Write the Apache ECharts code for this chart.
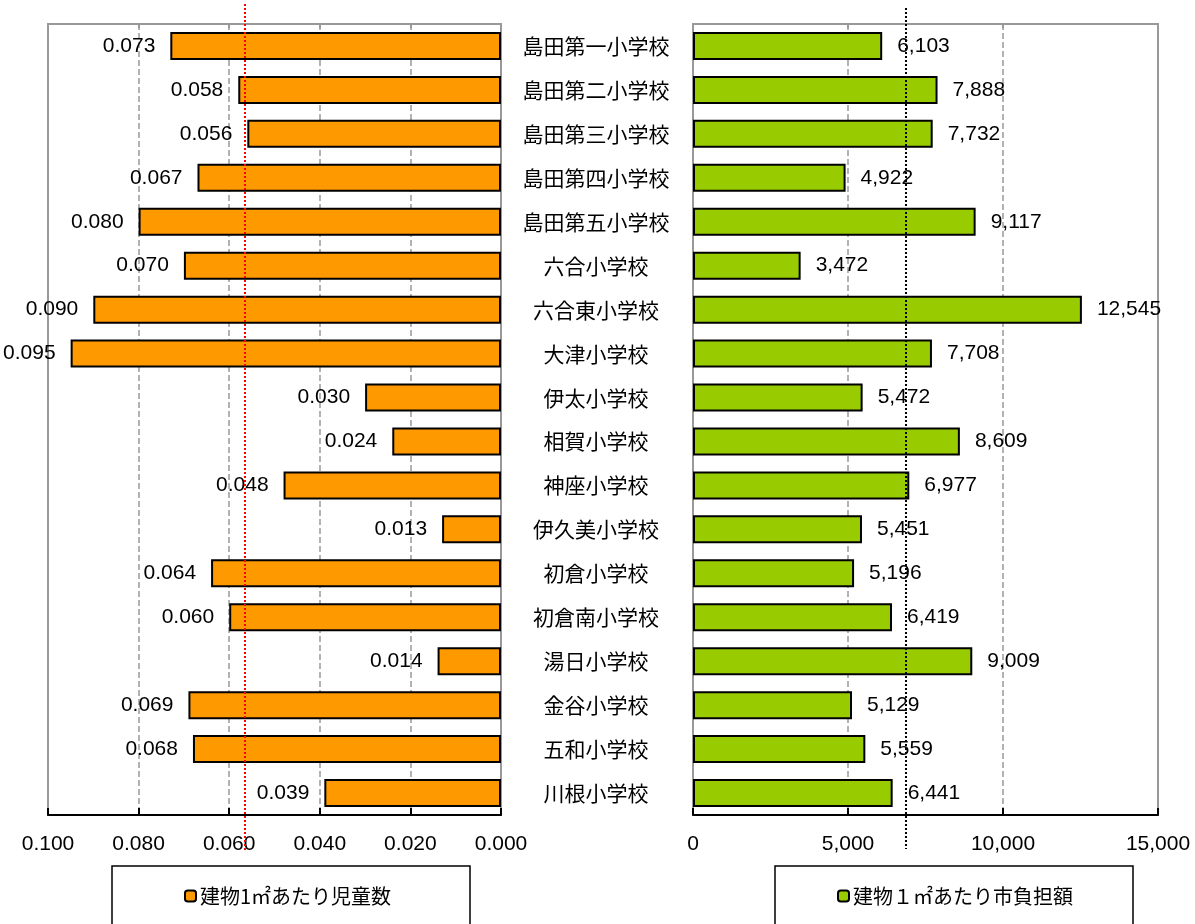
<!DOCTYPE html>
<html>
<head>
<meta charset="utf-8">
<script src="https://cdn.jsdelivr.net/npm/echarts@6/dist/echarts.min.js"></script>
<style>
  html, body { margin: 0; padding: 0; background: #fff; }
  #chart { width: 1195px; height: 924px; }
</style>
</head>
<body>
<div id="chart"></div>
<script>
// Schools (top to bottom)
const categories = [
  '島田第一小学校', '島田第二小学校', '島田第三小学校', '島田第四小学校', '島田第五小学校',
  '六合小学校', '六合東小学校', '大津小学校', '伊太小学校', '相賀小学校', '神座小学校',
  '伊久美小学校', '初倉小学校', '初倉南小学校', '湯日小学校', '金谷小学校', '五和小学校', '川根小学校'
];
// Pupils per 1㎡ of building floor area
const studentsPerSqm = [
  0.073, 0.058, 0.056, 0.067, 0.080, 0.070, 0.090, 0.095, 0.030,
  0.024, 0.048, 0.013, 0.064, 0.060, 0.014, 0.069, 0.068, 0.039
];
// City-funded cost per 1㎡ of building floor area (yen)
const costPerSqm = [
  6103, 7888, 7732, 4922, 9117, 3472, 12545, 7708, 5472,
  8609, 6977, 5451, 5196, 6419, 9009, 5129, 5559, 6441
];
const leftSeriesName = '建物1㎡あたり児童数';
const rightSeriesName = '建物１㎡あたり市負担額';

const NUM_FONT = '"Liberation Sans", Arial, sans-serif';
const CJK_FONT = '"Noto Sans CJK JP", sans-serif';
const withCommas = v => String(v).replace(/\B(?=(\d{3})+(?!\d))/g, ',');

const chart = echarts.init(document.getElementById('chart'), null, { renderer: 'canvas' });

const plotTop = 24, plotHeight = 791;
const leftGrid = { left: 48, width: 453 };
const rightGrid = { left: 693, width: 465 };

function bottomValueAxis(gridIndex, min, max, interval, inverse, fmt) {
  return {
    type: 'value', gridIndex, min, max, interval, inverse, position: 'bottom',
    axisLine: { show: true, lineStyle: { color: '#000', width: 2 } },
    axisTick: { show: true, inside: true, length: 7, lineStyle: { color: '#000', width: 2 } },
    axisLabel: { formatter: fmt, fontSize: 21, fontFamily: NUM_FONT, color: '#000', margin: 19 },
    splitLine: { show: true, lineStyle: { color: '#999', width: 1.5, type: [6, 3] } }
  };
}
function topTickAxis(gridIndex, min, max, interval, inverse) {
  return {
    type: 'value', gridIndex, min, max, interval, inverse, position: 'top',
    axisLine: { show: false },
    axisTick: { show: true, inside: true, length: 4, lineStyle: { color: '#999', width: 2 } },
    axisLabel: { show: false },
    splitLine: { show: false }
  };
}
function hiddenValueAxis(gridIndex, min, max, inverse) {
  return { type: 'value', gridIndex, min, max, inverse, show: false, splitLine: { show: false } };
}
function hiddenCategoryAxis(gridIndex) {
  return {
    type: 'category', gridIndex, data: categories, inverse: true,
    axisLine: { show: false }, axisTick: { show: false }, axisLabel: { show: false }
  };
}

const option = {
  animation: false,
  backgroundColor: '#fff',
  grid: [
    { left: leftGrid.left, width: leftGrid.width, top: plotTop, height: plotHeight,
      show: true, borderColor: '#999', borderWidth: 2, backgroundColor: 'transparent' },
    { left: rightGrid.left, width: rightGrid.width, top: plotTop, height: plotHeight,
      show: true, borderColor: '#999', borderWidth: 2, backgroundColor: 'transparent' },
    // taller overlay grids for the average lines, which run past the plot frame
    { left: leftGrid.left, width: leftGrid.width, top: 4, height: 846 },
    { left: rightGrid.left, width: rightGrid.width, top: 8, height: 841 }
  ],
  xAxis: [
    bottomValueAxis(0, 0, 0.1, 0.02, true, v => v.toFixed(3)),
    bottomValueAxis(1, 0, 15000, 5000, false, v => withCommas(v)),
    topTickAxis(0, 0, 0.1, 0.02, true),
    topTickAxis(1, 0, 15000, 5000, false),
    hiddenValueAxis(2, 0, 0.1, true),
    hiddenValueAxis(3, 0, 15000, false)
  ],
  yAxis: [
    hiddenCategoryAxis(0),
    {
      type: 'category', gridIndex: 1, data: categories, inverse: true,
      axisLine: { show: false }, axisTick: { show: false },
      axisLabel: { show: true, align: 'center', margin: 97, fontSize: 21,
        fontFamily: CJK_FONT, color: '#000' }
    },
    hiddenCategoryAxis(2),
    hiddenCategoryAxis(3)
  ],
  legend: [
    {
      data: [leftSeriesName], selectedMode: false, left: 184, top: 886, padding: 0,
      itemWidth: 11, itemHeight: 11, itemGap: 4,
      textStyle: { fontSize: 20, fontFamily: CJK_FONT, color: '#000', padding: [0, 0, 0, -1] }
    },
    {
      data: [rightSeriesName], selectedMode: false, left: 837, top: 886, padding: 0,
      itemWidth: 11, itemHeight: 11, itemGap: 4,
      textStyle: { fontSize: 20, fontFamily: CJK_FONT, color: '#000', padding: [0, 0, 0, -1] }
    }
  ],
  graphic: [
    { type: 'rect', shape: { x: 112, y: 866, width: 358, height: 80 }, z: -1,
      style: { fill: '#fff', stroke: '#000', lineWidth: 1.5 } },
    { type: 'rect', shape: { x: 775, y: 866, width: 358, height: 80 }, z: -1,
      style: { fill: '#fff', stroke: '#000', lineWidth: 1.5 } }
  ],
  series: [
    {
      name: leftSeriesName, type: 'bar', xAxisIndex: 0, yAxisIndex: 0,
      data: studentsPerSqm, barWidth: 28,
      itemStyle: { color: '#FF9900', borderColor: '#000', borderWidth: 2 },
      label: { show: true, position: 'left', distance: 15, fontSize: 21, fontFamily: NUM_FONT,
        color: '#000', formatter: p => p.value.toFixed(3) },
      z: 3
    },
    {
      name: rightSeriesName, type: 'bar', xAxisIndex: 1, yAxisIndex: 1,
      data: costPerSqm, barWidth: 28,
      itemStyle: { color: '#99CC00', borderColor: '#000', borderWidth: 2 },
      label: { show: true, position: 'right', distance: 15, fontSize: 21, fontFamily: NUM_FONT,
        color: '#000', formatter: p => withCommas(p.value) },
      z: 3
    },
    {
      name: 'avgStudents', type: 'bar', xAxisIndex: 4, yAxisIndex: 2,
      data: studentsPerSqm, barWidth: 1, silent: true,
      itemStyle: { color: 'rgba(0,0,0,0)' },
      markLine: {
        silent: true, symbol: 'none', precision: 6, label: { show: false },
        lineStyle: { color: '#FF0000', width: 2, type: [2, 2] },
        data: [{ type: 'average' }]
      },
      z: 10
    },
    {
      name: 'avgCost', type: 'bar', xAxisIndex: 5, yAxisIndex: 3,
      data: costPerSqm, barWidth: 1, silent: true,
      itemStyle: { color: 'rgba(0,0,0,0)' },
      markLine: {
        silent: true, symbol: 'none', precision: 2, label: { show: false },
        lineStyle: { color: '#000', width: 2, type: [2, 2] },
        data: [{ type: 'average' }]
      },
      z: 10
    }
  ]
};

chart.setOption(option);
</script>
</body>
</html>
